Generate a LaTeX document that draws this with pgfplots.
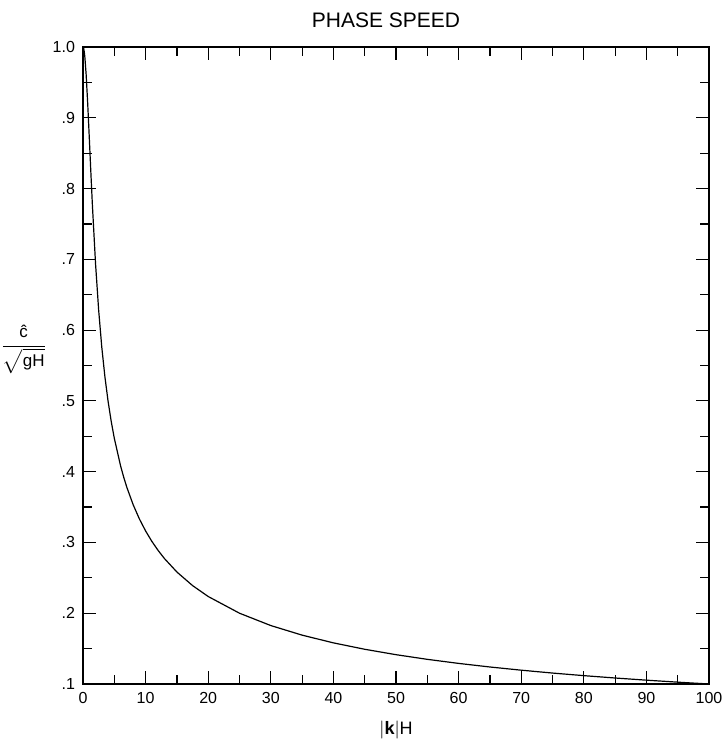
\documentclass[border=0pt]{standalone}
\usepackage{fontspec}
\setmainfont{Liberation Sans}
\usepackage{pgfplots}
\pgfplotsset{compat=1.18}
\begin{document}
\begin{tikzpicture}
\begin{axis}[
  scale only axis,
  width=313pt, height=318.5pt,
  xmin=0, xmax=100, ymin=0.1, ymax=1.0,
  xtick={0,10,...,100},
  minor xtick={5,15,...,95},
  ytick={0.1,0.2,...,1.0},
  yticklabels={.1,.2,.3,.4,.5,.6,.7,.8,.9,1.0},
  minor ytick={0.15,0.25,...,0.95},
  tick align=inside,
  major tick length=6.5pt,
  minor tick length=4.5pt,
  tick style={black, line width=0.6pt},
  axis line style={line width=0.7pt},
  /pgf/number format/assume math mode=true,
  ticklabel style={font=\fontsize{8}{9.5}\selectfont},
  xticklabel style={yshift=-0.5pt},
  yticklabel style={xshift=-0.5pt},
  title={PHASE SPEED},
  title style={font=\fontsize{10.5}{12}\selectfont, at={(axis description cs:0.5,1)}, anchor=center, yshift=7.5pt, xshift=-5pt},
  xlabel={$|$\textbf{k}$|$H},
  xlabel style={font=\fontsize{9}{10}\selectfont, at={(axis description cs:0.5,0)}, anchor=center, yshift=-23pt},
]
\addplot[black, line width=0.6pt] coordinates {
(0,1.0) (0.1,0.99834) (0.2,0.99342) (0.3,0.98541) (0.5,0.96137) (0.75,0.92025)
(1,0.87270) (1.25,0.82379) (1.5,0.77681) (2,0.69427) (2.5,0.62821) (3,0.57592)
(3.5,0.53404) (4,0.49983) (4.5,0.47135) (5,0.44719) (6,0.40825) (6.5,0.39223)
(7,0.37796) (8,0.35355) (9,0.33333) (10,0.31623) (11,0.30151) (12,0.28868)
(13,0.27735) (15,0.25820) (17.5,0.23905) (20,0.22361) (25,0.2) (30,0.18257)
(35,0.16903) (40,0.15811) (45,0.14907) (50,0.14142) (55,0.13484) (60,0.12910)
(65,0.12403) (70,0.11952) (75,0.11547) (80,0.11180) (85,0.10847) (90,0.10541)
(95,0.10260) (100,0.1)
};
\end{axis}
\node[anchor=east, font=\fontsize{8.5}{10}\selectfont, inner sep=0pt, xshift=-19pt, yshift=8.5pt] at (current axis.west)
  {\begin{tabular}{@{}c@{}}\^{c}\\[1pt]\hline\rule{0pt}{10pt}$\sqrt{\mbox{gH}}$\end{tabular}};
\pgfresetboundingbox
\useasboundingbox ([xshift=-41.5pt,yshift=-27.5pt]current axis.south west) rectangle ([xshift=6.5pt,yshift=23.5pt]current axis.north east);
\end{tikzpicture}
\end{document}
